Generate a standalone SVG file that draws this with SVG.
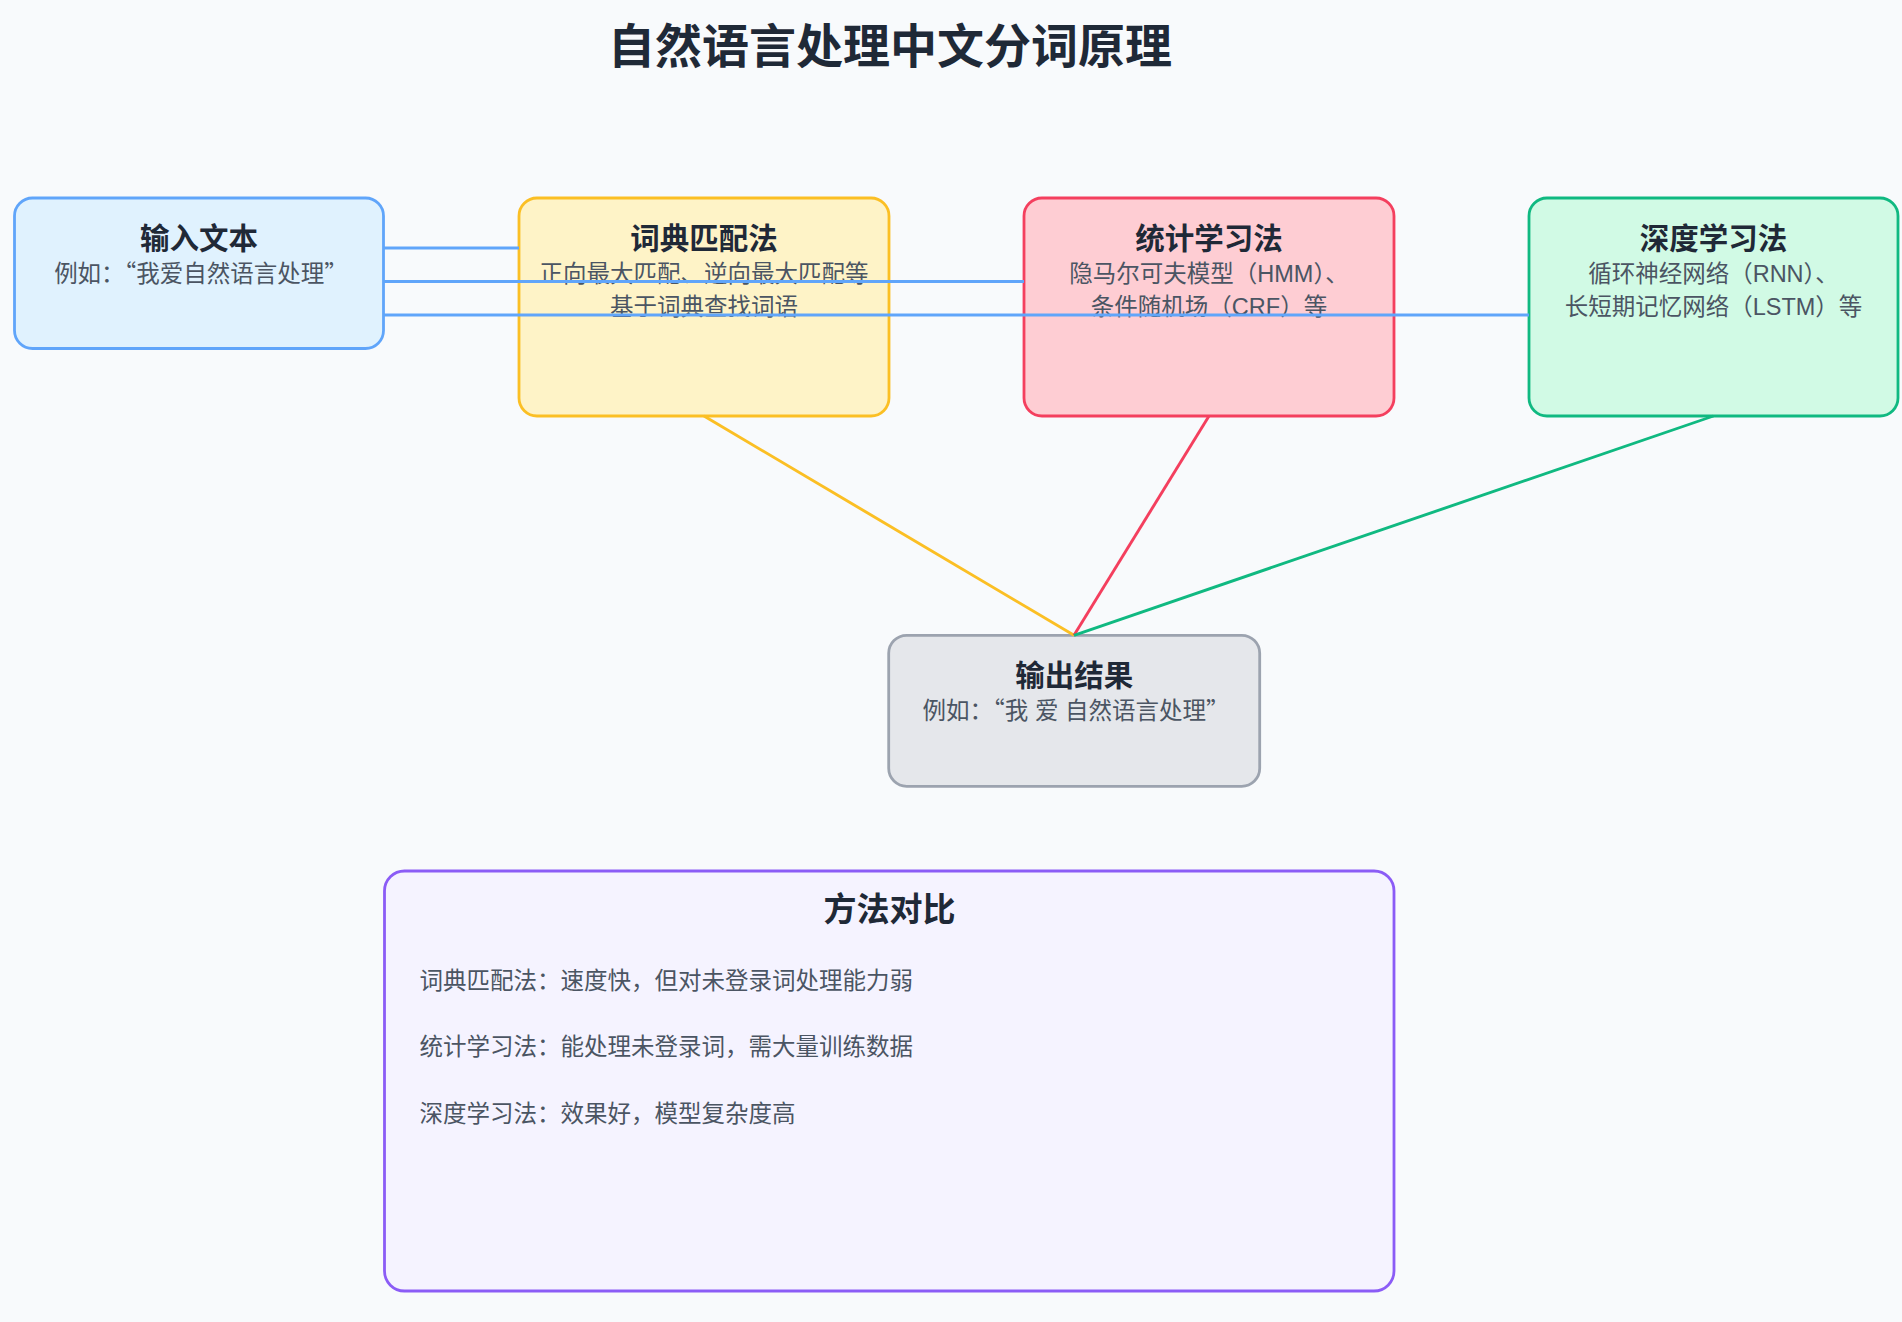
<svg xmlns="http://www.w3.org/2000/svg" width="1902" height="1322" viewBox="0 0 1902 1322">
<style>
text{font-family:"Noto Sans CJK SC","Noto Sans",sans-serif;}
.main{font-size:47px;font-weight:700;fill:#1f2937;text-anchor:middle;}
.t{font-size:29.5px;font-weight:700;fill:#1f2937;text-anchor:middle;}
.s{font-size:23.5px;fill:#4b5563;text-anchor:middle;}
.ct{font-size:33px;font-weight:700;fill:#1f2937;text-anchor:middle;}
.cl{font-size:23.5px;fill:#4b5563;}
.lat{font-family:"Liberation Sans","Noto Sans CJK SC",sans-serif;}
.box{stroke-width:2.8;}
.line{stroke-width:2.9;fill:none;}
</style>
<rect x="0" y="0" width="1902" height="1322" fill="#f8fafc"/>
<text class="main" x="890" y="63">自然语言处理中文分词原理</text>

<g id="input">
<rect class="box" x="14.5" y="198" width="369" height="150.5" rx="18" fill="#e0f2fe" stroke="#60a5fa"/>
<text class="t" x="199" y="249">输入文本</text>
<text class="s" x="201" y="282">例如：“我爱自然语言处理”</text>
</g>

<g id="dict">
<rect class="box" x="519" y="198" width="370" height="218" rx="18" fill="#fef3c7" stroke="#fbbf24"/>
<text class="t" x="704" y="249">词典匹配法</text>
<text class="s" x="704" y="282">正向最大匹配、逆向最大匹配等</text>
<text class="s" x="704" y="315">基于词典查找词语</text>
</g>

<g id="stat">
<rect class="box" x="1024" y="198" width="370" height="218" rx="18" fill="#fecdd3" stroke="#f43f5e"/>
<text class="t" x="1209" y="249">统计学习法</text>
<text class="s" x="1209" y="282">隐马尔可夫模型（<tspan class="lat">HMM</tspan>）、</text>
<text class="s" x="1209" y="315">条件随机场（<tspan class="lat">CRF</tspan>）等</text>
</g>

<g id="deep">
<rect class="box" x="1529" y="198" width="369" height="218" rx="18" fill="#d1fae5" stroke="#10b981"/>
<text class="t" x="1713.5" y="249">深度学习法</text>
<text class="s" x="1713.5" y="282">循环神经网络（<tspan class="lat">RNN</tspan>）、</text>
<text class="s" x="1713.5" y="315">长短期记忆网络（<tspan class="lat">LSTM</tspan>）等</text>
</g>

<g id="output">
<rect class="box" x="888.7" y="635.3" width="371" height="151" rx="18" fill="#e5e7eb" stroke="#9ca3af"/>
<text class="t" x="1074.2" y="686">输出结果</text>
<text class="s" x="1076" y="718.5">例如：“我<tspan class="lat"> </tspan>爱<tspan class="lat"> </tspan>自然语言处理”</text>
</g>

<g id="compare">
<rect class="box" x="384.5" y="871" width="1009.5" height="420" rx="20" fill="#f5f3ff" stroke="#8b5cf6"/>
<text class="ct" x="889.5" y="920.5">方法对比</text>
<text class="cl" x="419.5" y="988.5">词典匹配法：速度快，但对未登录词处理能力弱</text>
<text class="cl" x="419.5" y="1055">统计学习法：能处理未登录词，需大量训练数据</text>
<text class="cl" x="419.5" y="1121.5">深度学习法：效果好，模型复杂度高</text>
</g>

<g id="connectors">
<line class="line" x1="384" y1="248" x2="519" y2="248" stroke="#60a5fa"/>
<line class="line" x1="384" y1="281.5" x2="1024" y2="281.5" stroke="#60a5fa"/>
<line class="line" x1="384" y1="315" x2="1529" y2="315" stroke="#60a5fa"/>
<line class="line" x1="704" y1="416" x2="1074" y2="635.3" stroke="#fbbf24"/>
<line class="line" x1="1209" y1="416" x2="1074" y2="635.3" stroke="#f43f5e"/>
<line class="line" x1="1713.5" y1="416" x2="1074" y2="635.3" stroke="#10b981"/>
</g>
</svg>
